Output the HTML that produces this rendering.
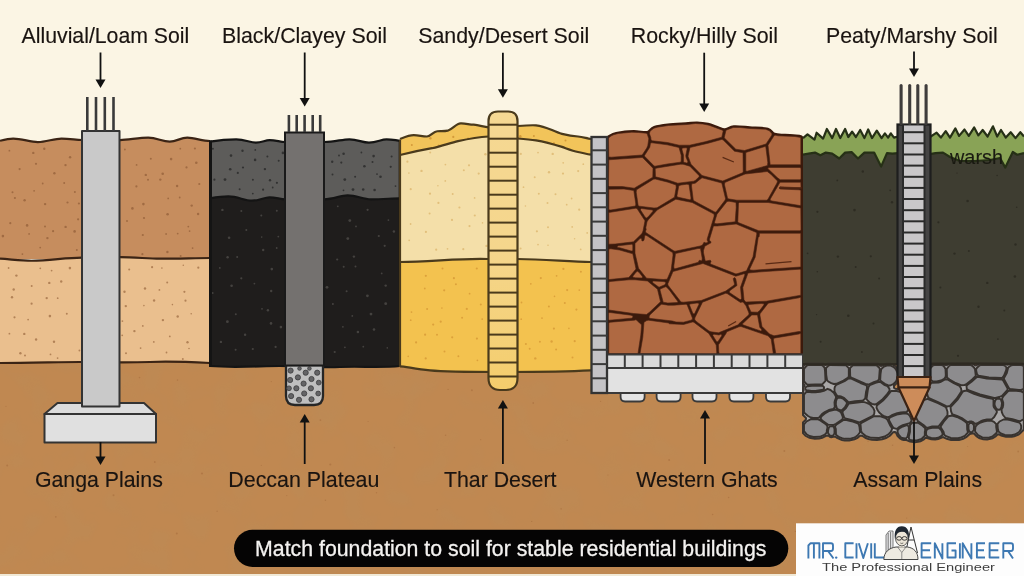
<!DOCTYPE html><html><head><meta charset="utf-8"><style>html,body{margin:0;padding:0;width:1024px;height:576px;overflow:hidden;background:#FBF5E4;}svg{display:block;filter:blur(0.4px);}text{font-family:"Liberation Sans",sans-serif;}</style></head><body>
<svg width="1024" height="576" viewBox="0 0 1024 576">
<defs><linearGradient id="pileg" x1="0" y1="0" x2="0" y2="1"><stop offset="0" stop-color="#F5D893"/><stop offset="0.5" stop-color="#F5D68C"/><stop offset="1" stop-color="#F4CD6C"/></linearGradient></defs>
<rect x="0" y="0" width="1024" height="576" fill="#FBF5E4"/>
<rect x="0" y="360" width="1024" height="216" fill="#C08851"/>
<filter id="mott" x="0" y="0" width="100%" height="100%"><feTurbulence type="fractalNoise" baseFrequency="0.035" numOctaves="2" seed="3"/><feColorMatrix type="matrix" values="0 0 0 0 0.45  0 0 0 0 0.28  0 0 0 0 0.12  0 0 0 -2.2 1.25"/></filter>
<rect x="0" y="360" width="1024" height="214" filter="url(#mott)" opacity="0.22"/>
<g fill="#a86f3f" opacity="0.6"><circle cx="6.0" cy="406.3" r="0.6"/><circle cx="82.5" cy="392.9" r="0.6"/><circle cx="139.5" cy="377.6" r="0.8"/><circle cx="177.5" cy="380.1" r="0.8"/><circle cx="271.3" cy="381.6" r="0.7"/><circle cx="320.4" cy="420.1" r="0.9"/><circle cx="368.1" cy="421.5" r="0.6"/><circle cx="448.1" cy="389.4" r="0.7"/><circle cx="471.9" cy="390.3" r="1.0"/><circle cx="533.2" cy="403.0" r="0.9"/><circle cx="600.6" cy="401.4" r="0.6"/><circle cx="644.4" cy="385.5" r="0.9"/><circle cx="720.1" cy="390.5" r="0.9"/><circle cx="779.7" cy="389.9" r="1.0"/><circle cx="849.6" cy="387.3" r="0.9"/><circle cx="899.9" cy="416.7" r="1.0"/><circle cx="947.2" cy="421.7" r="0.7"/><circle cx="1011.7" cy="411.2" r="0.7"/><circle cx="7.2" cy="465.5" r="1.0"/><circle cx="90.6" cy="475.2" r="0.8"/><circle cx="154.8" cy="462.0" r="0.9"/><circle cx="202.0" cy="473.5" r="1.1"/><circle cx="261.3" cy="465.3" r="0.6"/><circle cx="330.3" cy="464.5" r="1.1"/><circle cx="394.4" cy="447.6" r="0.8"/><circle cx="445.6" cy="435.3" r="0.8"/><circle cx="480.7" cy="439.7" r="0.6"/><circle cx="567.1" cy="440.3" r="0.7"/><circle cx="607.9" cy="475.0" r="0.6"/><circle cx="669.1" cy="459.9" r="1.0"/><circle cx="744.8" cy="474.6" r="0.7"/><circle cx="784.3" cy="451.0" r="1.0"/><circle cx="868.1" cy="441.3" r="0.7"/><circle cx="892.6" cy="445.2" r="0.8"/><circle cx="967.7" cy="446.5" r="0.6"/><circle cx="1018.2" cy="451.5" r="0.9"/><circle cx="55.8" cy="516.8" r="0.9"/><circle cx="113.5" cy="495.2" r="1.0"/><circle cx="176.8" cy="533.6" r="1.0"/><circle cx="217.1" cy="511.3" r="0.7"/><circle cx="286.8" cy="495.6" r="0.6"/><circle cx="325.4" cy="500.3" r="0.8"/><circle cx="376.5" cy="492.7" r="0.7"/><circle cx="437.2" cy="509.7" r="0.6"/><circle cx="531.7" cy="521.4" r="0.7"/><circle cx="561.1" cy="508.9" r="0.8"/><circle cx="712.6" cy="514.5" r="0.8"/><circle cx="728.6" cy="497.5" r="0.8"/><circle cx="795.4" cy="531.4" r="0.7"/><circle cx="842.5" cy="537.1" r="0.9"/><circle cx="906.7" cy="518.1" r="0.6"/><circle cx="983.0" cy="538.4" r="1.0"/></g>
<rect x="0" y="574" width="1024" height="2" fill="#F1E9D6"/>
<path d="M0,140.8 C5,139.5 9,138.6 13.2,138.6 C22,138.6 30,142.1 37.8,142.1 C46,142.1 54,138.6 61.5,138.6 C70,138.6 76,140 82,140 L120,140.1 C130,139.5 140,137.7 148.2,137.7 C157,137.7 162,141.6 169.7,141.6 C177,141.6 180,137.7 187.3,137.7 C195,137.7 202,141 210,141 L210,259 L0,259 Z" fill="#C68D5E"/>
<g fill="#94603a" opacity="0.75"><circle cx="9.4" cy="150.7" r="0.9"/><circle cx="33.3" cy="152.9" r="1.2"/><circle cx="44.3" cy="148.7" r="1.2"/><circle cx="70.1" cy="157.2" r="1.2"/><circle cx="124.9" cy="149.5" r="0.9"/><circle cx="150.8" cy="158.7" r="1.0"/><circle cx="171.1" cy="159.1" r="1.3"/><circle cx="180.3" cy="148.7" r="0.9"/><circle cx="194.9" cy="148.5" r="1.1"/><circle cx="19.6" cy="169.1" r="1.1"/><circle cx="36.0" cy="163.8" r="1.1"/><circle cx="54.4" cy="173.2" r="1.2"/><circle cx="65.5" cy="165.1" r="1.2"/><circle cx="136.6" cy="164.9" r="0.9"/><circle cx="145.8" cy="174.9" r="1.2"/><circle cx="162.7" cy="173.8" r="1.3"/><circle cx="186.5" cy="167.4" r="1.1"/><circle cx="196.3" cy="162.8" r="1.3"/><circle cx="12.5" cy="192.2" r="1.0"/><circle cx="34.1" cy="190.8" r="0.9"/><circle cx="42.7" cy="183.5" r="0.9"/><circle cx="64.2" cy="183.1" r="1.0"/><circle cx="74.9" cy="191.9" r="1.0"/><circle cx="136.4" cy="186.4" r="1.1"/><circle cx="148.0" cy="179.8" r="1.0"/><circle cx="160.3" cy="179.6" r="1.2"/><circle cx="177.1" cy="186.0" r="1.2"/><circle cx="199.3" cy="184.0" r="1.1"/><circle cx="14.9" cy="198.0" r="1.1"/><circle cx="24.6" cy="200.3" r="1.2"/><circle cx="45.1" cy="204.1" r="1.2"/><circle cx="67.5" cy="202.5" r="1.1"/><circle cx="78.9" cy="203.5" r="1.1"/><circle cx="132.4" cy="208.4" r="1.3"/><circle cx="143.4" cy="204.1" r="1.3"/><circle cx="168.2" cy="198.4" r="0.9"/><circle cx="179.7" cy="197.5" r="0.9"/><circle cx="191.7" cy="205.6" r="1.2"/><circle cx="10.3" cy="223.2" r="1.1"/><circle cx="27.1" cy="225.4" r="1.3"/><circle cx="45.0" cy="226.4" r="1.0"/><circle cx="65.6" cy="226.9" r="1.2"/><circle cx="78.1" cy="219.3" r="1.1"/><circle cx="127.0" cy="221.0" r="1.0"/><circle cx="144.0" cy="218.0" r="1.1"/><circle cx="167.6" cy="214.3" r="1.3"/><circle cx="188.3" cy="226.6" r="0.9"/><circle cx="198.1" cy="214.0" r="1.2"/><circle cx="2.9" cy="236.1" r="1.3"/><circle cx="29.1" cy="233.9" r="0.9"/><circle cx="47.4" cy="238.1" r="1.2"/><circle cx="53.1" cy="231.2" r="1.1"/><circle cx="74.6" cy="231.4" r="1.3"/><circle cx="142.8" cy="235.0" r="1.1"/><circle cx="166.1" cy="234.0" r="0.9"/><circle cx="177.7" cy="233.6" r="0.9"/><circle cx="189.6" cy="231.1" r="0.9"/><circle cx="22.4" cy="254.1" r="0.9"/><circle cx="40.2" cy="247.6" r="0.9"/><circle cx="76.8" cy="249.9" r="1.0"/><circle cx="142.4" cy="254.2" r="1.1"/><circle cx="167.4" cy="252.0" r="1.2"/><circle cx="180.6" cy="256.0" r="1.0"/><circle cx="192.6" cy="248.1" r="0.9"/></g>
<path d="M0,258.7 C12,259.5 22,260.75 31.5,260.75 C50,260.75 65,257.6 82,257.6 L120,257.2 C135,257.2 148,258.7 159.7,258.7 C180,258.7 195,258 210,258 L210,363 C190,362 170,361 150,362 C120,363 100,362 80,362 C60,362 30,363 0,363 Z" fill="#EABF8E"/>
<g fill="#a5744a" opacity="0.8"><circle cx="8.6" cy="268.0" r="0.9"/><circle cx="16.4" cy="275.6" r="1.2"/><circle cx="40.3" cy="268.3" r="0.9"/><circle cx="51.6" cy="270.6" r="0.9"/><circle cx="69.9" cy="268.1" r="1.3"/><circle cx="129.2" cy="269.6" r="1.0"/><circle cx="152.1" cy="267.2" r="1.1"/><circle cx="161.9" cy="268.1" r="0.8"/><circle cx="183.3" cy="265.2" r="0.8"/><circle cx="198.3" cy="267.7" r="1.1"/><circle cx="13.7" cy="289.5" r="1.2"/><circle cx="31.7" cy="286.0" r="1.0"/><circle cx="49.3" cy="282.9" r="1.2"/><circle cx="61.2" cy="281.5" r="1.2"/><circle cx="124.5" cy="291.8" r="1.2"/><circle cx="145.0" cy="288.5" r="1.2"/><circle cx="159.4" cy="289.9" r="0.9"/><circle cx="167.2" cy="282.6" r="1.0"/><circle cx="184.4" cy="291.8" r="1.1"/><circle cx="12.0" cy="297.2" r="1.2"/><circle cx="31.6" cy="303.7" r="1.1"/><circle cx="46.7" cy="298.1" r="1.2"/><circle cx="57.7" cy="298.2" r="0.9"/><circle cx="125.8" cy="306.1" r="1.2"/><circle cx="143.9" cy="305.6" r="0.8"/><circle cx="154.1" cy="300.5" r="1.2"/><circle cx="172.4" cy="304.6" r="0.8"/><circle cx="185.5" cy="300.7" r="1.1"/><circle cx="14.5" cy="317.3" r="1.1"/><circle cx="28.1" cy="319.6" r="0.9"/><circle cx="49.9" cy="316.1" r="1.3"/><circle cx="66.8" cy="313.7" r="1.0"/><circle cx="122.4" cy="321.1" r="0.9"/><circle cx="142.8" cy="325.9" r="0.9"/><circle cx="162.9" cy="320.1" r="1.2"/><circle cx="177.7" cy="316.5" r="1.2"/><circle cx="191.2" cy="313.8" r="0.8"/><circle cx="9.4" cy="333.7" r="0.9"/><circle cx="24.3" cy="333.9" r="1.2"/><circle cx="36.1" cy="339.5" r="1.2"/><circle cx="54.0" cy="341.8" r="1.2"/><circle cx="122.2" cy="335.3" r="0.9"/><circle cx="134.4" cy="331.1" r="1.2"/><circle cx="153.8" cy="341.9" r="0.9"/><circle cx="169.8" cy="336.4" r="0.9"/><circle cx="187.5" cy="342.2" r="1.2"/><circle cx="20.4" cy="353.2" r="1.2"/><circle cx="25.0" cy="355.6" r="1.0"/><circle cx="50.5" cy="354.4" r="0.9"/><circle cx="57.6" cy="358.1" r="0.9"/><circle cx="79.4" cy="350.5" r="0.9"/><circle cx="126.0" cy="353.3" r="1.0"/><circle cx="140.6" cy="348.1" r="0.9"/><circle cx="166.5" cy="352.5" r="0.9"/><circle cx="182.8" cy="359.0" r="1.0"/><circle cx="189.0" cy="348.5" r="0.8"/></g>
<g fill="none" stroke="#3b2415" stroke-width="2.2">
<path d="M0,140.8 C5,139.5 9,138.6 13.2,138.6 C22,138.6 30,142.1 37.8,142.1 C46,142.1 54,138.6 61.5,138.6 C70,138.6 76,140 82,140 L120,140.1 C130,139.5 140,137.7 148.2,137.7 C157,137.7 162,141.6 169.7,141.6 C177,141.6 180,137.7 187.3,137.7 C195,137.7 202,141 210,141"/>
<path d="M0,258.7 C12,259.5 22,260.75 31.5,260.75 C50,260.75 65,257.6 82,257.6 L120,257.2 C135,257.2 148,258.7 159.7,258.7 C180,258.7 195,258 210,258"/>
<path d="M0,363 C30,363 60,362 80,362 C100,362 120,363 150,362 C170,361 190,362 210,363"/>
</g>
<g stroke="#333" stroke-width="2" stroke-linejoin="round">
<path d="M57.5,403 L144,403 L156,414 L44.5,414 Z" fill="#DCDCDC"/>
<rect x="44.5" y="414" width="111.5" height="28.5" fill="#E0E0E0"/>
<rect x="82" y="131" width="37.5" height="275.5" fill="#C9C9C9"/>
</g>
<g stroke="#3a3a3a" stroke-width="2.6">
<line x1="87.3" y1="97" x2="87.3" y2="131"/>
<line x1="96" y1="97" x2="96" y2="131"/>
<line x1="104.8" y1="97" x2="104.8" y2="131"/>
<line x1="113.5" y1="97" x2="113.5" y2="131"/>
</g>
<path d="M210,141.7 C220,140 228,139.3 236.25,139.3 C245,139.3 250,142.6 255.8,142.6 C262,142.6 265,140.1 269.5,140.1 C276,140.1 280,142 285,142 L324,142 C335,142 342,139.3 349.5,139.3 C358,139.3 362,142.6 369,142.6 C377,142.6 381,139.3 386.6,139.3 C393,139.3 397,140.7 400.3,140.7 L400,202 L210,202 Z" fill="#5D5C5A"/>
<g fill="#2c2c2c" opacity="0.85"><circle cx="212.9" cy="148.8" r="1.0"/><circle cx="231.0" cy="155.6" r="1.3"/><circle cx="242.5" cy="150.7" r="1.2"/><circle cx="255.3" cy="149.9" r="0.9"/><circle cx="267.4" cy="156.5" r="1.0"/><circle cx="282.9" cy="152.9" r="1.3"/><circle cx="339.0" cy="155.5" r="0.9"/><circle cx="343.6" cy="153.8" r="1.3"/><circle cx="361.4" cy="152.5" r="0.9"/><circle cx="373.6" cy="156.1" r="1.3"/><circle cx="391.6" cy="156.5" r="1.0"/><circle cx="230.2" cy="169.3" r="1.3"/><circle cx="243.0" cy="167.5" r="1.1"/><circle cx="255.1" cy="159.9" r="1.3"/><circle cx="264.9" cy="169.1" r="1.2"/><circle cx="278.7" cy="160.8" r="1.0"/><circle cx="332.2" cy="161.8" r="1.2"/><circle cx="341.3" cy="162.6" r="1.1"/><circle cx="364.4" cy="166.2" r="1.3"/><circle cx="372.5" cy="161.9" r="1.0"/><circle cx="390.7" cy="166.8" r="1.1"/><circle cx="214.4" cy="179.7" r="1.1"/><circle cx="225.0" cy="179.6" r="1.4"/><circle cx="237.8" cy="172.9" r="1.1"/><circle cx="252.9" cy="179.8" r="1.0"/><circle cx="270.0" cy="180.3" r="1.2"/><circle cx="276.9" cy="182.8" r="1.1"/><circle cx="332.5" cy="174.5" r="1.0"/><circle cx="344.8" cy="179.6" r="1.4"/><circle cx="355.1" cy="176.7" r="1.0"/><circle cx="377.0" cy="174.1" r="0.9"/><circle cx="380.5" cy="176.7" r="1.3"/><circle cx="239.6" cy="189.2" r="1.0"/><circle cx="252.8" cy="193.6" r="0.9"/><circle cx="263.1" cy="189.7" r="1.1"/><circle cx="272.7" cy="187.5" r="0.9"/><circle cx="343.5" cy="190.3" r="0.9"/><circle cx="353.0" cy="189.6" r="1.4"/><circle cx="363.2" cy="189.5" r="1.3"/><circle cx="374.6" cy="190.0" r="1.3"/><circle cx="395.5" cy="186.1" r="0.9"/></g>
<path d="M210,198.3 C218,197 222,196.4 228.4,196.4 C238,196.4 244,200.7 251.9,200.7 C260,200.7 264,197.3 269.5,197.3 C276,197.3 280,199.3 285,199.3 L324,199.3 C334,199.3 340,195.4 347.6,195.4 C357,195.4 363,199.3 371,199.3 C383,199.3 392,198.3 400.3,198.3 L400,366 C380,368 360,366 340,367 C320,368 300,366 280,366 C260,366 235,368 210,366 Z" fill="#1F1D1C"/>
<g fill="#55524f" opacity="0.7"><circle cx="222.4" cy="209.9" r="1.2"/><circle cx="241.3" cy="211.1" r="1.0"/><circle cx="261.3" cy="215.4" r="1.0"/><circle cx="276.8" cy="210.8" r="1.0"/><circle cx="337.8" cy="206.3" r="0.9"/><circle cx="349.8" cy="220.6" r="1.4"/><circle cx="367.6" cy="209.8" r="1.1"/><circle cx="388.4" cy="220.1" r="0.9"/><circle cx="229.1" cy="237.7" r="1.3"/><circle cx="246.3" cy="230.1" r="1.0"/><circle cx="261.7" cy="237.1" r="0.8"/><circle cx="278.3" cy="236.6" r="0.9"/><circle cx="347.8" cy="238.6" r="1.4"/><circle cx="356.0" cy="226.4" r="0.9"/><circle cx="378.8" cy="236.0" r="1.1"/><circle cx="393.9" cy="231.5" r="1.2"/><circle cx="227.6" cy="257.2" r="1.2"/><circle cx="237.2" cy="257.1" r="1.0"/><circle cx="263.2" cy="250.0" r="1.2"/><circle cx="276.7" cy="248.0" r="0.9"/><circle cx="337.2" cy="259.5" r="1.1"/><circle cx="353.9" cy="256.6" r="1.2"/><circle cx="384.7" cy="245.8" r="1.1"/><circle cx="219.8" cy="267.9" r="0.9"/><circle cx="241.3" cy="278.3" r="1.1"/><circle cx="271.8" cy="269.1" r="1.3"/><circle cx="343.7" cy="266.8" r="1.0"/><circle cx="355.5" cy="266.5" r="1.0"/><circle cx="381.7" cy="273.4" r="0.9"/><circle cx="212.7" cy="293.0" r="0.9"/><circle cx="231.6" cy="285.7" r="1.3"/><circle cx="254.4" cy="283.6" r="0.9"/><circle cx="271.2" cy="291.0" r="1.2"/><circle cx="327.0" cy="287.3" r="1.4"/><circle cx="346.6" cy="291.3" r="1.0"/><circle cx="367.4" cy="295.8" r="1.4"/><circle cx="385.7" cy="285.6" r="1.2"/><circle cx="235.8" cy="314.3" r="1.0"/><circle cx="262.0" cy="308.8" r="0.9"/><circle cx="267.9" cy="310.2" r="1.2"/><circle cx="332.9" cy="304.0" r="1.0"/><circle cx="352.3" cy="315.9" r="0.9"/><circle cx="371.0" cy="314.1" r="1.4"/><circle cx="385.7" cy="303.7" r="1.4"/><circle cx="227.4" cy="321.7" r="1.4"/><circle cx="245.1" cy="334.8" r="1.2"/><circle cx="271.0" cy="323.4" r="1.3"/><circle cx="280.9" cy="327.1" r="1.3"/><circle cx="342.9" cy="326.8" r="0.9"/><circle cx="357.9" cy="332.0" r="1.3"/><circle cx="374.0" cy="329.5" r="1.3"/><circle cx="220.9" cy="341.9" r="1.2"/><circle cx="235.6" cy="349.7" r="1.0"/><circle cx="252.8" cy="349.0" r="1.1"/><circle cx="275.6" cy="346.9" r="1.1"/><circle cx="334.7" cy="352.0" r="1.1"/><circle cx="344.9" cy="347.3" r="0.9"/><circle cx="363.3" cy="346.7" r="0.9"/><circle cx="387.3" cy="347.9" r="0.8"/></g>
<g fill="none" stroke="#141414" stroke-width="2.2">
<path d="M210,141.7 C220,140 228,139.3 236.25,139.3 C245,139.3 250,142.6 255.8,142.6 C262,142.6 265,140.1 269.5,140.1 C276,140.1 280,142 285,142 L324,142 C335,142 342,139.3 349.5,139.3 C358,139.3 362,142.6 369,142.6 C377,142.6 381,139.3 386.6,139.3 C393,139.3 397,140.7 400.3,140.7"/>
<path d="M210,198.3 C218,197 222,196.4 228.4,196.4 C238,196.4 244,200.7 251.9,200.7 C260,200.7 264,197.3 269.5,197.3 C276,197.3 280,199.3 285,199.3 L324,199.3 C334,199.3 340,195.4 347.6,195.4 C357,195.4 363,199.3 371,199.3 C383,199.3 392,198.3 400.3,198.3"/>
<path d="M210,366 C235,368 260,366 280,366 C300,366 320,368 340,367 C360,366 380,368 400,366"/>
<line x1="210.5" y1="140.5" x2="210.5" y2="367" stroke-width="3"/><line x1="400" y1="140" x2="400" y2="367" stroke-width="2.6"/>
</g>
<path d="M286,365 L323,365 L323,396 Q323,405 314,405 L295,405 Q286,405 286,396 Z" fill="#BFBFBF" stroke="#262626" stroke-width="2.3"/>
<g fill="#646466" stroke="#3c3c3e" stroke-width="0.8"><circle cx="290.6" cy="370.6" r="2.6"/><circle cx="299.5" cy="368.5" r="1.8"/><circle cx="309.4" cy="368.5" r="1.8"/><circle cx="305.7" cy="372.7" r="2.6"/><circle cx="317.2" cy="372.7" r="2.6"/><circle cx="297.9" cy="377.4" r="2.6"/><circle cx="290.1" cy="380" r="2.6"/><circle cx="311.5" cy="379" r="2.6"/><circle cx="303.6" cy="383.6" r="2.6"/><circle cx="318.75" cy="382.6" r="2.4"/><circle cx="289" cy="388.3" r="2.4"/><circle cx="296.35" cy="388.3" r="2.6"/><circle cx="310.9" cy="388.3" r="2.6"/><circle cx="304.2" cy="393.5" r="2.6"/><circle cx="318.2" cy="393.5" r="2.4"/><circle cx="291.1" cy="396.1" r="2.6"/><circle cx="299" cy="399.8" r="2.6"/><circle cx="311.5" cy="399.3" r="2.6"/></g>
<rect x="285" y="132.5" width="39" height="233" fill="#74716F" stroke="#1a1a1a" stroke-width="2"/>
<g stroke="#3a3a3a" stroke-width="2.6">
<line x1="288.9" y1="115" x2="288.9" y2="132"/>
<line x1="296.7" y1="115" x2="296.7" y2="132"/>
<line x1="304.6" y1="115" x2="304.6" y2="132"/>
<line x1="312.7" y1="115" x2="312.7" y2="132"/>
<line x1="320.2" y1="115" x2="320.2" y2="132"/>
</g>
<path d="M400,155 C412,152 422,150 432,148.2 C442,146 450,143 458,141.1 C470,138.5 480,137 488.6,136.5 L517.8,138.5 C524,139 530,139.5 536,140.4 C545,142 554,144.5 562,146.9 C568,149 573,151 578,152 C583,153 587,154 591,154.7 L591,263 L400,263 Z" fill="#F4DFA9"/>
<g fill="#dfba74" opacity="0.85"><circle cx="407.4" cy="161.7" r="1.1"/><circle cx="430.2" cy="152.4" r="1.0"/><circle cx="445.4" cy="164.6" r="0.9"/><circle cx="469.0" cy="165.3" r="1.1"/><circle cx="485.4" cy="154.3" r="1.2"/><circle cx="520.8" cy="153.9" r="1.1"/><circle cx="538.0" cy="152.6" r="0.9"/><circle cx="552.7" cy="153.9" r="1.2"/><circle cx="563.2" cy="162.8" r="0.9"/><circle cx="583.3" cy="164.2" r="0.9"/><circle cx="408.9" cy="173.1" r="0.8"/><circle cx="421.5" cy="170.9" r="1.2"/><circle cx="445.3" cy="180.9" r="0.9"/><circle cx="463.8" cy="170.3" r="1.0"/><circle cx="478.7" cy="173.6" r="1.1"/><circle cx="534.7" cy="177.3" r="1.0"/><circle cx="549.0" cy="172.3" r="1.2"/><circle cx="563.0" cy="173.6" r="1.1"/><circle cx="578.2" cy="171.1" r="1.1"/><circle cx="410.7" cy="189.2" r="1.1"/><circle cx="430.0" cy="193.7" r="1.1"/><circle cx="437.9" cy="185.8" r="0.8"/><circle cx="452.7" cy="194.1" r="1.0"/><circle cx="474.6" cy="197.9" r="0.9"/><circle cx="523.5" cy="187.2" r="0.9"/><circle cx="538.8" cy="193.7" r="1.0"/><circle cx="555.5" cy="194.2" r="1.0"/><circle cx="571.6" cy="198.5" r="0.9"/><circle cx="429.6" cy="213.4" r="1.0"/><circle cx="438.4" cy="202.9" r="1.1"/><circle cx="459.4" cy="207.5" r="1.1"/><circle cx="474.8" cy="215.5" r="1.1"/><circle cx="525.4" cy="206.0" r="0.8"/><circle cx="547.5" cy="202.9" r="1.0"/><circle cx="566.7" cy="204.7" r="0.9"/><circle cx="579.2" cy="209.7" r="1.1"/><circle cx="410.6" cy="224.0" r="0.9"/><circle cx="425.9" cy="231.9" r="1.1"/><circle cx="452.0" cy="219.9" r="1.1"/><circle cx="469.5" cy="226.1" r="1.1"/><circle cx="482.5" cy="222.9" r="0.8"/><circle cx="536.9" cy="231.3" r="1.1"/><circle cx="548.0" cy="227.3" r="1.0"/><circle cx="572.2" cy="226.9" r="0.9"/><circle cx="587.2" cy="232.9" r="0.9"/><circle cx="409.2" cy="240.3" r="0.9"/><circle cx="436.2" cy="249.7" r="1.1"/><circle cx="447.5" cy="248.8" r="0.9"/><circle cx="463.3" cy="249.2" r="1.1"/><circle cx="486.5" cy="245.9" r="1.2"/><circle cx="520.6" cy="248.5" r="1.0"/><circle cx="538.0" cy="244.6" r="0.9"/><circle cx="548.0" cy="245.3" r="0.8"/><circle cx="574.6" cy="238.8" r="0.8"/><circle cx="580.7" cy="249.4" r="0.9"/></g>
<path d="M400,262 C430,262 460,258 488,259 L517,259 C545,259 570,262 591,262 L591,370.4 C560,372 520,372 500,372 C470,372 440,371.4 430,370.4 C415,369 405,366.3 400,366.3 Z" fill="#F3C24F"/>
<g fill="#d99c38" opacity="0.85"><circle cx="425.8" cy="275.8" r="1.1"/><circle cx="442.5" cy="268.5" r="1.0"/><circle cx="453.9" cy="278.2" r="1.1"/><circle cx="476.8" cy="268.5" r="1.1"/><circle cx="540.8" cy="278.1" r="1.1"/><circle cx="556.6" cy="275.8" r="0.9"/><circle cx="563.4" cy="268.9" r="1.1"/><circle cx="580.9" cy="271.7" r="1.0"/><circle cx="424.8" cy="288.5" r="0.9"/><circle cx="444.2" cy="290.3" r="1.1"/><circle cx="455.9" cy="284.2" r="1.0"/><circle cx="469.6" cy="293.7" r="0.9"/><circle cx="530.8" cy="283.8" r="0.9"/><circle cx="554.5" cy="296.4" r="0.8"/><circle cx="567.2" cy="290.1" r="1.1"/><circle cx="579.3" cy="290.1" r="0.9"/><circle cx="411.5" cy="312.1" r="0.9"/><circle cx="427.1" cy="308.9" r="1.0"/><circle cx="441.9" cy="308.1" r="0.8"/><circle cx="466.8" cy="308.9" r="1.1"/><circle cx="480.8" cy="304.5" r="1.0"/><circle cx="521.5" cy="302.5" r="0.9"/><circle cx="548.9" cy="306.4" r="1.0"/><circle cx="564.8" cy="302.9" r="1.0"/><circle cx="576.4" cy="309.6" r="1.1"/><circle cx="410.7" cy="320.2" r="0.9"/><circle cx="433.2" cy="324.6" r="1.1"/><circle cx="440.7" cy="321.7" r="1.1"/><circle cx="462.1" cy="317.7" r="1.0"/><circle cx="482.2" cy="319.1" r="0.9"/><circle cx="521.2" cy="319.2" r="0.9"/><circle cx="542.0" cy="318.1" r="0.9"/><circle cx="553.9" cy="328.6" r="1.1"/><circle cx="568.9" cy="328.4" r="0.8"/><circle cx="416.1" cy="342.4" r="1.1"/><circle cx="425.1" cy="334.7" r="1.1"/><circle cx="437.0" cy="334.8" r="1.0"/><circle cx="452.2" cy="337.3" r="1.1"/><circle cx="476.9" cy="338.6" r="1.1"/><circle cx="525.9" cy="343.9" r="1.0"/><circle cx="539.9" cy="341.8" r="1.0"/><circle cx="551.6" cy="341.5" r="1.2"/><circle cx="574.7" cy="341.2" r="1.1"/><circle cx="408.2" cy="356.4" r="0.8"/><circle cx="425.7" cy="358.4" r="1.1"/><circle cx="444.5" cy="351.5" r="1.0"/><circle cx="458.4" cy="356.3" r="1.0"/><circle cx="477.4" cy="360.3" r="0.9"/><circle cx="529.7" cy="348.8" r="1.0"/><circle cx="535.3" cy="358.4" r="1.2"/><circle cx="556.1" cy="349.6" r="1.0"/><circle cx="572.5" cy="357.6" r="1.0"/></g>
<path d="M400,139 C405,137 409,135.2 413.8,135.2 C419,135.2 422,136.5 426.9,136.5 C431,136.5 433,131.5 437.3,131.25 C441,131 444,131.5 447.7,130.7 C453,129 456,123.6 460.7,123.4 C466,123.2 469,124.7 473.75,124.7 C479,125 484,127 488.6,127.3 L518,126 C524,125.5 530,125 536,125.3 C546,126 553,131.5 562,133.9 C568,135.5 573,136.3 578,136.5 C583,137 587,138.5 591,139 L591,154.7 C587,154 583,153 578,152 C573,151 568,149 562,146.9 C554,144.5 545,142 536,140.4 C530,139.5 524,139 517.8,138.5 L488.6,136.5 C480,137 470,138.5 458,141.1 C450,143 442,146 432,148.2 C422,150 412,152 400,155 Z" fill="#F2C45A"/>
<g fill="#d49a3a" opacity="1"><circle cx="411.8" cy="145.1" r="1.0"/><circle cx="430.4" cy="138.3" r="1.2"/><circle cx="438.8" cy="145.6" r="1.0"/><circle cx="453.3" cy="136.9" r="1.1"/><circle cx="468.1" cy="138.7" r="1.1"/><circle cx="491.8" cy="137.8" r="1.0"/><circle cx="501.3" cy="142.6" r="1.3"/><circle cx="520.3" cy="136.2" r="1.2"/><circle cx="533.9" cy="136.1" r="1.0"/><circle cx="553.9" cy="143.4" r="1.2"/><circle cx="565.5" cy="140.4" r="1.0"/><circle cx="586.8" cy="137.9" r="1.2"/></g>
<g fill="none" stroke="#4a3a1c" stroke-width="2.2">
<path d="M400,139 C405,137 409,135.2 413.8,135.2 C419,135.2 422,136.5 426.9,136.5 C431,136.5 433,131.5 437.3,131.25 C441,131 444,131.5 447.7,130.7 C453,129 456,123.6 460.7,123.4 C466,123.2 469,124.7 473.75,124.7 C479,125 484,127 488.6,127.3 L518,126 C524,125.5 530,125 536,125.3 C546,126 553,131.5 562,133.9 C568,135.5 573,136.3 578,136.5 C583,137 587,138.5 591,139"/>
<path d="M400,155 C412,152 422,150 432,148.2 C442,146 450,143 458,141.1 C470,138.5 480,137 488.6,136.5 M517.8,138.5 C524,139 530,139.5 536,140.4 C545,142 554,144.5 562,146.9 C568,149 573,151 578,152 C583,153 587,154 591,154.7"/>
<path d="M400,262 C430,262 460,258 488,259 M517,259 C545,259 570,262 591,262"/>
<path d="M400,366.3 C405,366.3 415,369 430,370.4 C440,371.4 470,372 500,372 C520,372 560,372 591,370.4"/>
<line x1="400" y1="140" x2="400" y2="367"/>
</g>
<path d="M488.5,121 C488.5,114 492,111.5 498,111.5 L508,111.5 C514,111.5 517.5,114 517.5,121 L517.5,378 C517.5,386 513,390 506,390 L500,390 C493,390 488.5,386 488.5,378 Z" fill="url(#pileg)" stroke="#4a3a1c" stroke-width="2.2"/>
<g stroke="#4a3a1c" stroke-width="2"><line x1="489" y1="124.7" x2="517" y2="124.7"/><line x1="489" y1="138.7" x2="517" y2="138.7"/><line x1="489" y1="152.7" x2="517" y2="152.7"/><line x1="489" y1="166.7" x2="517" y2="166.7"/><line x1="489" y1="180.7" x2="517" y2="180.7"/><line x1="489" y1="194.7" x2="517" y2="194.7"/><line x1="489" y1="208.6" x2="517" y2="208.6"/><line x1="489" y1="222.6" x2="517" y2="222.6"/><line x1="489" y1="236.6" x2="517" y2="236.6"/><line x1="489" y1="250.6" x2="517" y2="250.6"/><line x1="489" y1="264.6" x2="517" y2="264.6"/><line x1="489" y1="278.6" x2="517" y2="278.6"/><line x1="489" y1="292.6" x2="517" y2="292.6"/><line x1="489" y1="306.6" x2="517" y2="306.6"/><line x1="489" y1="320.6" x2="517" y2="320.6"/><line x1="489" y1="334.6" x2="517" y2="334.6"/><line x1="489" y1="348.5" x2="517" y2="348.5"/><line x1="489" y1="362.5" x2="517" y2="362.5"/><line x1="489" y1="376.5" x2="517" y2="376.5"/></g>
<path d="M607.9,137.0 C608.8,136.5 610.9,134.8 613.0,134.0 C615.1,133.2 616.8,132.8 620.3,132.4 C623.8,132.0 629.8,131.3 633.9,131.3 C638.0,131.3 642.8,132.2 645.2,132.2 C647.7,132.2 647.1,132.3 648.6,131.5 C650.1,130.7 651.0,128.3 654.2,127.2 C657.4,126.1 662.5,125.3 667.8,124.7 C673.1,124.1 680.9,123.8 685.8,123.5 C690.7,123.2 693.4,122.5 697.1,122.6 C700.8,122.7 704.5,123.2 708.0,124.0 C711.5,124.8 715.2,126.6 718.0,127.5 C720.8,128.4 722.1,129.7 724.8,129.5 C727.4,129.3 729.8,126.8 733.9,126.5 C738.0,126.2 744.1,127.0 749.7,127.4 C755.4,127.8 763.7,127.7 767.8,128.8 C771.9,129.9 771.6,133.0 774.5,134.0 C777.4,135.0 780.9,134.7 785.0,135.0 C789.1,135.3 796.4,135.5 799.4,136.0 C802.4,136.5 802.2,137.8 802.8,138.2 L802.8,356 L607,356 Z" fill="#3B1A0C" stroke="#3B1A0C" stroke-width="2.4" stroke-linejoin="round"/>
<path d="M713.0,334.5 L712.8,335.5 L716.5,341.5 L717.2,341.8 L718.0,341.5 L721.8,335.8 L721.5,334.5 L720.8,334.2 L719.0,335.0 L714.0,334.2Z M800.8,333.8 L800.0,333.5 L799.0,334.0 L773.8,338.2 L773.5,340.2 L775.8,353.5 L800.8,353.5Z M718.5,344.8 L718.8,352.0 L719.2,353.5 L720.0,353.8 L772.2,353.8 L773.2,353.0 L771.2,339.2 L768.0,335.8 L741.0,326.5 L739.0,326.8 L726.8,331.8 L726.0,333.5Z M644.0,322.2 L642.8,337.2 L640.2,352.5 L640.5,353.5 L715.8,353.8 L716.8,353.0 L716.2,345.0 L708.8,333.5 L693.8,322.2 L692.5,322.0 L683.5,324.5 L669.2,323.8 L668.8,323.0 L648.5,320.2 L646.8,320.5Z M641.2,324.0 L640.0,323.5 L636.5,320.0 L635.8,319.8 L634.2,320.2 L610.5,322.2 L608.8,322.8 L608.8,353.5 L638.0,353.5 L640.8,335.0 L641.5,325.8Z M742.5,323.8 L742.8,324.8 L755.5,329.2 L760.8,331.0 L761.8,330.2 L761.5,329.2 L759.8,327.5 L757.5,315.0 L751.8,315.0Z M608.5,313.2 L608.5,319.5 L609.5,320.2 L631.5,318.2 L633.0,317.2 L632.8,316.0 L631.0,315.2 L610.0,312.5 L608.8,312.8Z M649.0,317.0 L649.2,318.0 L651.0,318.5 L672.5,321.0 L676.0,322.0 L683.5,322.2 L691.0,320.2 L692.5,319.2 L692.2,317.5 L687.2,305.0 L686.2,304.2 L673.8,305.2 L668.0,305.2 L661.8,304.2 L661.0,304.5 L649.8,315.0Z M763.8,303.8 L761.2,303.5 L748.5,304.5 L748.2,305.8 L751.0,312.0 L757.5,312.2 L759.5,310.8 L764.0,304.8Z M698.8,303.2 L697.0,303.0 L689.8,304.0 L689.5,305.0 L693.0,313.8 L694.5,313.8 L699.0,304.2Z M800.8,297.5 L800.0,297.2 L799.0,297.8 L768.2,303.2 L760.0,313.8 L760.0,315.8 L762.0,326.5 L769.5,334.0 L774.0,335.8 L798.8,331.5 L800.8,331.5Z M746.0,305.8 L743.2,302.2 L742.2,302.0 L740.5,302.5 L727.5,293.8 L725.8,293.2 L702.5,302.2 L694.8,318.0 L694.8,319.8 L696.0,321.2 L709.0,331.0 L711.0,331.8 L718.5,332.8 L738.2,324.8 L738.8,323.8 L748.8,314.8 L749.0,313.2Z M660.2,289.0 L660.0,290.0 L663.2,302.2 L667.8,303.0 L677.5,302.5 L677.8,301.5 L669.5,290.2 L666.5,287.0 L665.5,286.8Z M652.5,281.8 L652.8,282.8 L659.0,287.2 L664.8,284.8 L665.8,283.0 L665.5,282.0 L663.0,281.5 L653.5,281.0Z M608.8,282.0 L608.8,310.0 L633.5,313.5 L646.5,314.5 L649.5,312.2 L660.5,301.8 L657.5,289.2 L647.5,281.0 L635.0,279.8 L629.0,279.8 L610.0,281.5Z M632.8,276.2 L633.0,277.2 L635.2,277.8 L641.5,278.0 L642.5,277.2 L642.2,276.2 L639.2,272.5 L637.5,271.2 L636.2,272.0Z M800.8,269.5 L799.5,269.2 L761.5,271.8 L748.0,273.0 L742.8,287.5 L744.0,299.8 L745.5,301.8 L746.2,302.0 L766.2,301.2 L800.8,295.2Z M667.8,283.8 L668.0,285.2 L681.0,302.0 L683.5,302.2 L701.2,300.5 L725.8,291.0 L734.2,285.0 L734.5,284.0 L733.2,278.8 L734.0,277.8 L735.0,277.8 L735.8,279.0 L737.0,285.5 L730.0,290.5 L729.2,292.0 L729.8,292.8 L739.5,299.2 L740.5,299.5 L741.5,298.8 L740.5,287.2 L745.0,274.5 L744.0,273.8 L735.8,276.2 L703.0,263.5 L673.0,271.5Z M608.8,249.0 L608.8,279.2 L609.5,279.5 L628.8,277.5 L636.0,269.0 L632.8,253.8 L619.5,250.0 L610.8,248.8Z M700.5,248.5 L698.0,248.5 L675.5,253.5 L673.8,266.0 L674.0,268.5 L675.0,268.8 L698.5,262.2 L698.8,261.0 L699.5,260.2 L701.2,260.8 L702.0,260.5 L702.2,258.2Z M632.8,250.2 L632.8,245.0 L631.8,244.2 L618.2,245.8 L617.2,246.5 L617.5,247.5 L619.8,247.8 L631.2,251.0 L632.5,250.8Z M644.8,235.5 L644.0,240.0 L643.2,241.0 L642.2,241.0 L641.8,240.5 L641.8,239.0 L640.8,238.2 L640.0,238.5 L635.0,243.5 L635.0,253.2 L638.5,268.2 L646.5,278.2 L663.2,279.5 L667.2,279.2 L671.2,269.8 L673.0,255.2 L672.8,252.8 L647.0,235.8 L645.8,235.2Z M759.5,233.2 L759.2,236.5 L758.2,237.5 L755.2,257.2 L749.8,268.8 L750.0,270.0 L753.8,270.2 L800.8,267.0 L800.8,233.2Z M713.5,226.0 L709.5,239.2 L709.5,240.5 L710.8,241.5 L711.0,242.8 L704.8,246.2 L703.5,250.5 L703.5,252.8 L705.2,260.8 L706.0,261.0 L710.2,260.2 L711.0,261.0 L711.0,262.0 L710.2,263.0 L710.5,264.0 L735.5,273.8 L736.8,273.8 L746.5,270.8 L753.0,256.8 L756.8,234.0 L756.5,232.5 L736.2,224.0 L717.2,226.0Z M640.5,209.2 L640.8,210.5 L645.2,217.2 L646.5,218.0 L648.2,216.8 L653.0,211.2 L652.8,210.0 L641.5,208.5Z M637.0,208.5 L635.8,208.2 L608.8,212.5 L608.8,244.2 L615.2,244.0 L633.5,241.8 L642.0,233.5 L643.0,231.0 L645.0,220.8Z M738.5,203.2 L737.8,221.8 L738.2,222.5 L758.8,230.8 L800.0,230.8 L801.0,230.0 L800.8,208.0 L768.2,202.5 L739.5,202.5Z M736.0,202.5 L729.0,201.2 L727.0,201.5 L717.0,214.2 L714.5,222.2 L714.8,223.5 L717.0,223.8 L735.2,221.8 L736.2,207.5Z M647.0,221.8 L645.8,227.8 L646.2,229.5 L645.5,231.2 L645.8,232.5 L674.0,251.0 L675.2,251.2 L700.2,246.0 L702.5,245.0 L704.0,242.2 L706.0,243.0 L707.8,242.2 L708.0,241.2 L707.2,240.5 L707.2,239.0 L714.0,216.8 L714.2,214.8 L713.5,213.8 L692.2,202.5 L675.8,199.2 L657.2,210.0 L648.5,219.5Z M608.8,189.2 L608.8,209.8 L610.8,210.0 L635.5,206.0 L635.8,204.0 L633.8,190.5 L624.0,189.0Z M689.0,184.5 L686.8,184.2 L681.0,185.0 L678.8,185.8 L677.0,195.5 L677.2,197.0 L689.8,199.8 L690.8,199.5 L691.0,198.0Z M770.2,199.2 L770.5,200.5 L772.0,201.0 L799.8,205.5 L800.8,205.2 L800.8,190.2 L799.0,189.8 L780.0,189.0 L779.2,188.0 L780.0,186.8 L800.0,187.8 L801.0,187.0 L800.8,182.2 L780.0,182.2Z M676.0,185.0 L668.0,182.2 L655.2,179.0 L653.5,179.2 L636.5,189.8 L636.2,192.2 L638.2,205.8 L639.5,206.2 L654.0,208.0 L657.0,207.8 L674.5,197.2 L676.2,187.5Z M691.8,183.8 L691.5,186.0 L693.2,199.5 L693.8,200.8 L715.2,212.2 L716.2,211.8 L725.2,200.0 L725.5,198.5 L721.8,183.0 L702.0,177.8 L695.2,183.2Z M777.5,181.0 L770.8,174.2 L767.2,171.5 L745.2,174.0 L724.8,182.5 L724.5,184.8 L727.5,198.0 L728.0,198.8 L737.0,200.2 L766.5,200.2 L767.8,199.5 L777.0,183.0Z M767.8,168.2 L768.0,169.2 L768.5,169.2 L777.2,177.5 L780.2,179.8 L800.0,179.8 L801.0,179.0 L801.0,168.2 L800.0,167.5 L768.8,167.5Z M699.2,176.8 L699.0,175.5 L689.8,166.2 L683.0,164.2 L680.5,164.2 L657.0,168.0 L655.5,168.5 L655.2,169.0 L655.5,176.8 L668.2,180.0 L677.8,183.2 L693.8,181.2 L695.5,180.2Z M653.0,168.2 L642.8,157.8 L642.0,157.5 L608.8,159.8 L608.5,185.8 L609.5,186.5 L622.2,186.5 L634.2,188.2 L652.8,177.2Z M682.2,148.0 L682.0,149.8 L683.5,155.0 L683.5,161.8 L683.8,162.2 L686.8,163.0 L687.5,162.8 L687.8,161.5 L686.0,157.2 L685.8,155.5 L687.2,148.5 L686.2,147.8Z M765.8,146.8 L765.0,146.5 L745.8,152.5 L745.8,171.0 L747.2,171.2 L767.5,165.5 L767.8,162.5Z M644.5,155.5 L644.8,156.5 L654.2,166.0 L655.0,166.2 L667.2,164.0 L680.2,162.2 L681.2,161.5 L681.2,155.2 L679.0,147.5 L667.2,144.8 L652.0,142.8 L650.5,143.0 L649.8,147.2Z M690.0,147.5 L688.0,156.2 L691.0,164.2 L702.0,175.5 L722.8,181.0 L742.5,172.8 L743.2,172.0 L743.0,152.8 L734.5,151.2 L723.0,139.8 L721.5,139.5 L708.2,143.2Z M774.2,135.5 L768.0,145.2 L770.2,164.8 L800.8,164.8 L800.8,137.5 L795.0,136.5 L778.0,135.8 L775.8,135.2Z M647.2,133.8 L646.2,133.2 L638.8,132.5 L631.8,132.2 L618.2,133.5 L613.5,134.8 L611.0,136.0 L608.5,138.0 L608.8,157.0 L611.5,157.2 L642.2,155.0 L646.8,148.0 L647.8,145.5 L648.8,138.8Z M724.2,137.8 L735.8,149.2 L744.5,150.5 L766.0,144.0 L771.8,135.2 L772.0,133.8 L769.5,130.8 L765.5,129.2 L749.8,128.5 L740.0,127.5 L733.2,127.5 L726.0,130.2Z M723.2,131.0 L722.5,130.2 L709.0,125.2 L702.8,124.0 L695.5,123.5 L687.2,124.5 L668.5,125.5 L657.2,127.2 L654.0,128.2 L652.0,129.5 L649.8,131.8 L649.5,133.8 L650.8,137.5 L651.0,139.8 L652.2,140.8 L667.5,142.5 L679.2,145.2 L689.5,145.2 L705.0,141.8 L721.8,137.2Z" fill="#AF6942" stroke="#4a2212" stroke-width="0.6"/>
<path d="M722.6,157.4 L733.9,162.0 M779.1,187.9 L801.6,187.9 M765.5,263.9 L791.5,261.6 M728.2,326.0 L736.1,321.5" stroke="#5a2a14" stroke-width="1.3" fill="none"/>
<rect x="607" y="354.5" width="196" height="13.5" fill="#DADADA" stroke="#3a3a3a" stroke-width="2"/>
<g stroke="#3a3a3a" stroke-width="2"><line x1="624.8" y1="355" x2="624.8" y2="368"/><line x1="642.6" y1="355" x2="642.6" y2="368"/><line x1="660.5" y1="355" x2="660.5" y2="368"/><line x1="678.3" y1="355" x2="678.3" y2="368"/><line x1="696.1" y1="355" x2="696.1" y2="368"/><line x1="713.9" y1="355" x2="713.9" y2="368"/><line x1="731.7" y1="355" x2="731.7" y2="368"/><line x1="749.5" y1="355" x2="749.5" y2="368"/><line x1="767.4" y1="355" x2="767.4" y2="368"/><line x1="785.2" y1="355" x2="785.2" y2="368"/></g>
<rect x="607" y="368" width="196" height="25" fill="#E2E2E2" stroke="#3a3a3a" stroke-width="2"/>
<path d="M620.6,393 L644.6,393 L644.6,397 Q644.6,401.5 640.1,401.5 L625.1,401.5 Q620.6,401.5 620.6,397 Z" fill="#E4E4E4" stroke="#3a3a3a" stroke-width="1.8"/>
<path d="M656.6,393 L680.6,393 L680.6,397 Q680.6,401.5 676.1,401.5 L661.1,401.5 Q656.6,401.5 656.6,397 Z" fill="#E4E4E4" stroke="#3a3a3a" stroke-width="1.8"/>
<path d="M692.5,393 L716.5,393 L716.5,397 Q716.5,401.5 712.0,401.5 L697.0,401.5 Q692.5,401.5 692.5,397 Z" fill="#E4E4E4" stroke="#3a3a3a" stroke-width="1.8"/>
<path d="M729.4,393 L753.4,393 L753.4,397 Q753.4,401.5 748.9,401.5 L733.9,401.5 Q729.4,401.5 729.4,397 Z" fill="#E4E4E4" stroke="#3a3a3a" stroke-width="1.8"/>
<path d="M766,393 L790,393 L790,397 Q790,401.5 785.5,401.5 L770.5,401.5 Q766,401.5 766,397 Z" fill="#E4E4E4" stroke="#3a3a3a" stroke-width="1.8"/>
<rect x="591.5" y="137" width="15.5" height="256" fill="#C4C3C6" stroke="#333" stroke-width="2.3"/>
<g stroke="#3a3a3a" stroke-width="2"><line x1="592" y1="150.3" x2="607" y2="150.3"/><line x1="592" y1="164.6" x2="607" y2="164.6"/><line x1="592" y1="178.8" x2="607" y2="178.8"/><line x1="592" y1="193.1" x2="607" y2="193.1"/><line x1="592" y1="207.3" x2="607" y2="207.3"/><line x1="592" y1="221.6" x2="607" y2="221.6"/><line x1="592" y1="235.8" x2="607" y2="235.8"/><line x1="592" y1="250.1" x2="607" y2="250.1"/><line x1="592" y1="264.3" x2="607" y2="264.3"/><line x1="592" y1="278.6" x2="607" y2="278.6"/><line x1="592" y1="292.8" x2="607" y2="292.8"/><line x1="592" y1="307.1" x2="607" y2="307.1"/><line x1="592" y1="321.3" x2="607" y2="321.3"/><line x1="592" y1="335.6" x2="607" y2="335.6"/><line x1="592" y1="349.8" x2="607" y2="349.8"/><line x1="592" y1="364.1" x2="607" y2="364.1"/><line x1="592" y1="378.3" x2="607" y2="378.3"/></g>
<rect x="803" y="150" width="221" height="214" fill="#3E3D31"/>
<g fill="#27251d" opacity="0.7"><circle cx="837.3" cy="180.4" r="0.9"/><circle cx="862.8" cy="171.5" r="1.2"/><circle cx="890.2" cy="190.3" r="0.9"/><circle cx="957.0" cy="173.1" r="0.7"/><circle cx="997.1" cy="175.5" r="0.8"/><circle cx="817.4" cy="211.8" r="1.1"/><circle cx="854.5" cy="210.1" r="1.3"/><circle cx="892.0" cy="202.2" r="1.2"/><circle cx="938.4" cy="222.3" r="1.1"/><circle cx="967.6" cy="201.0" r="1.3"/><circle cx="1016.7" cy="207.2" r="0.8"/><circle cx="807.6" cy="253.3" r="0.9"/><circle cx="837.9" cy="256.6" r="1.2"/><circle cx="870.8" cy="256.3" r="1.1"/><circle cx="954.5" cy="253.6" r="1.2"/><circle cx="968.9" cy="251.1" r="1.0"/><circle cx="1015.5" cy="244.5" r="1.2"/><circle cx="817.3" cy="271.7" r="0.8"/><circle cx="855.7" cy="267.1" r="1.0"/><circle cx="879.1" cy="278.4" r="1.0"/><circle cx="940.4" cy="287.4" r="1.0"/><circle cx="987.3" cy="282.9" r="1.2"/><circle cx="1014.9" cy="276.5" r="1.3"/><circle cx="816.6" cy="314.6" r="0.7"/><circle cx="848.3" cy="315.8" r="1.3"/><circle cx="873.5" cy="323.5" r="1.0"/><circle cx="978.5" cy="306.8" r="1.2"/><circle cx="1004.3" cy="310.4" r="1.0"/><circle cx="820.6" cy="341.8" r="1.0"/><circle cx="861.9" cy="352.0" r="0.9"/><circle cx="958.0" cy="355.8" r="1.1"/><circle cx="997.9" cy="339.1" r="0.9"/></g>
<path d="M803,138.1 L807.5,134.3 L814.5,139.7 L816.6,132.7 L823.1,138.6 L826.9,129 L832.2,138.1 L836,129 L840.3,138.1 L845.1,129 L848.3,137 L852.1,131.6 L855.9,137 L860.2,130 L864.4,138.1 L868.2,129.5 L872,138.1 L876.8,130.6 L881.6,138.1 L884.9,133.3 L888.1,137.6 L890.8,133.3 L894,137.6 L898,136.5 L898,153.1 L892.4,153.7 L887,153.1 L881.1,166.6 L874.1,152.6 L864.4,152.6 L858,158.5 L851.6,152.1 L845.1,152.6 L839.2,158.5 L832.2,153.7 L825.8,152.6 L820.4,155.3 L815,152.6 L808.6,153.7 L803,154.7 Z" fill="#89A356"/>
<path d="M930,137 L936.6,132.7 L940.9,137.6 L945.7,131.1 L950,137.6 L955.4,128.4 L959.1,135.9 L964.5,129.5 L968.8,135.9 L974.2,127.4 L978.4,135.4 L982.7,130 L987.6,136.5 L993,126.3 L997.2,136.5 L1001,130 L1005.8,137.6 L1010.7,132.2 L1015.5,138.1 L1020.3,132.2 L1024,136.5 L1024,153.1 L1017.1,154.7 L1012.8,152 L1005.3,167.6 L1000,158 L990,160 L975,161 L960,161 L950,157 L943,152.6 L935.5,153.1 L930,154.2 Z" fill="#89A356"/>
<g fill="none" stroke="#263016" stroke-width="2.2" stroke-linejoin="round"><path d="M803,138.1 L807.5,134.3 L814.5,139.7 L816.6,132.7 L823.1,138.6 L826.9,129 L832.2,138.1 L836,129 L840.3,138.1 L845.1,129 L848.3,137 L852.1,131.6 L855.9,137 L860.2,130 L864.4,138.1 L868.2,129.5 L872,138.1 L876.8,130.6 L881.6,138.1 L884.9,133.3 L888.1,137.6 L890.8,133.3 L894,137.6 L898,136.5"/><path d="M898,153.1 L892.4,153.7 L887,153.1 L881.1,166.6 L874.1,152.6 L864.4,152.6 L858,158.5 L851.6,152.1 L845.1,152.6 L839.2,158.5 L832.2,153.7 L825.8,152.6 L820.4,155.3 L815,152.6 L808.6,153.7 L803,154.7"/><path d="M930,137 L936.6,132.7 L940.9,137.6 L945.7,131.1 L950,137.6 L955.4,128.4 L959.1,135.9 L964.5,129.5 L968.8,135.9 L974.2,127.4 L978.4,135.4 L982.7,130 L987.6,136.5 L993,126.3 L997.2,136.5 L1001,130 L1005.8,137.6 L1010.7,132.2 L1015.5,138.1 L1020.3,132.2 L1024,136.5"/><path d="M1024,153.1 L1017.1,154.7 L1012.8,152 L1005.3,167.6 L1000,158 L990,160 L975,161 L960,161 L950,157 L943,152.6 L935.5,153.1 L930,154.2"/></g>
<text x="950" y="164" font-size="20.5" fill="#1a1a12" stroke="#1a1a12" stroke-width="0.1" textLength="53" lengthAdjust="spacingAndGlyphs">warsh</text>
<path d="M803.0,366.5 L803.0,383.2 L804.5,385.0 L804.5,386.0 L803.0,388.0 L803.0,389.0 L803.5,389.8 L803.5,390.8 L803.0,391.5 L803.0,415.0 L806.0,418.0 L805.8,419.8 L803.0,422.5 L803.0,433.2 L805.5,435.8 L809.5,437.8 L814.8,438.8 L819.2,438.5 L822.2,437.8 L826.0,435.8 L827.5,435.5 L828.5,435.8 L830.2,437.0 L831.5,437.2 L834.0,436.5 L835.5,436.8 L837.0,438.0 L842.0,440.0 L844.8,440.5 L849.2,440.5 L854.5,439.2 L857.5,437.8 L860.0,435.8 L861.0,435.5 L862.5,436.0 L865.8,438.0 L868.5,439.0 L872.0,439.8 L877.0,440.0 L882.2,439.2 L886.0,438.0 L890.2,435.5 L893.2,432.2 L894.5,432.0 L895.5,432.2 L896.2,433.0 L897.5,436.0 L900.0,438.5 L902.0,439.5 L903.8,440.0 L906.5,440.0 L910.0,441.5 L915.2,442.2 L920.5,441.2 L923.8,439.5 L925.2,438.0 L926.2,437.8 L931.2,439.2 L935.2,439.5 L938.2,439.0 L943.0,437.0 L946.8,438.8 L951.0,440.0 L959.0,440.0 L963.2,438.8 L966.5,437.0 L969.8,434.0 L972.8,433.2 L974.0,433.5 L976.5,436.2 L979.2,438.0 L983.2,439.2 L987.2,439.5 L992.5,438.2 L995.5,436.5 L997.5,434.5 L998.5,434.2 L1001.2,435.5 L1006.0,436.8 L1011.8,436.8 L1014.2,436.2 L1018.5,434.5 L1020.2,433.2 L1022.8,430.5 L1023.8,430.2 L1023.8,363.8 L1023.0,363.5 L1010.2,363.5 L1007.8,364.8 L1006.2,364.5 L1004.5,363.5 L979.2,363.5 L976.8,365.2 L975.8,365.5 L974.8,365.2 L972.5,363.5 L949.0,363.5 L947.0,365.0 L946.0,365.2 L944.2,364.8 L942.8,363.5 L932.8,363.5 L929.5,366.5 L928.2,368.8 L927.5,371.2 L927.5,376.0 L928.2,378.5 L929.2,380.2 L929.2,381.5 L927.0,384.2 L925.0,388.5 L924.5,391.0 L924.8,396.5 L923.8,397.8 L919.5,400.2 L915.2,405.0 L914.2,405.2 L913.2,405.0 L912.5,404.2 L912.0,401.5 L910.2,397.2 L906.8,393.2 L901.8,390.2 L897.8,389.0 L895.5,388.8 L894.0,387.8 L894.0,385.8 L896.8,383.2 L898.2,380.8 L899.2,377.2 L899.2,373.8 L898.2,370.2 L896.8,367.8 L894.8,365.8 L892.8,364.5 L890.2,363.8 L886.5,363.8 L881.2,366.0 L880.2,365.8 L877.5,363.5 L851.8,363.5 L850.2,364.8 L849.2,365.0 L847.8,364.5 L846.5,363.5 L828.2,363.5 L827.0,364.5 L825.5,365.0 L824.5,364.8 L823.0,363.5 L806.2,363.5Z" fill="#A9A7A7" stroke="#3a3430" stroke-width="2"/>
<path d="M806.5,365.8 L804.0,368.8 L804.0,381.0 L805.0,382.5 L806.5,384.0 L808.2,384.8 L822.5,384.2 L825.5,380.8 L825.0,370.5 L824.5,367.5 L822.2,365.2 L821.2,365.0 L808.2,365.0Z M826.0,368.2 L826.2,374.8 L827.0,380.0 L828.2,381.5 L831.2,383.2 L833.8,384.0 L836.5,383.8 L843.5,380.5 L847.8,377.8 L848.8,376.5 L848.8,368.2 L845.8,365.2 L830.0,365.0 L828.2,365.8Z M850.0,368.2 L850.2,376.8 L852.5,378.2 L865.5,383.8 L868.0,384.5 L869.5,384.2 L873.0,382.5 L877.5,381.0 L879.0,379.5 L879.8,368.8 L879.0,367.5 L876.5,365.2 L854.0,365.0 L852.5,365.5Z M886.8,365.5 L884.0,366.5 L881.8,368.5 L881.2,369.5 L880.5,374.2 L880.2,380.0 L881.5,381.5 L885.2,384.0 L887.8,385.2 L890.2,385.5 L893.2,384.2 L895.8,381.8 L896.5,380.5 L897.8,376.0 L897.5,373.2 L896.2,370.0 L895.0,368.2 L893.2,366.8 L890.2,365.5Z M805.2,388.0 L805.2,389.0 L806.2,390.2 L811.5,391.0 L815.5,391.0 L823.0,389.8 L824.0,388.5 L824.0,387.2 L823.0,386.0 L822.0,385.8 L812.0,385.8 L807.2,386.2 L806.2,386.8Z M835.0,386.5 L834.5,388.2 L834.5,391.5 L836.5,395.0 L837.5,396.0 L841.2,396.5 L844.0,397.8 L848.2,402.0 L849.2,402.2 L855.2,401.2 L861.8,400.8 L863.5,400.2 L865.2,398.5 L866.0,392.0 L867.0,388.2 L866.8,385.8 L866.0,385.0 L860.5,383.0 L850.8,378.5 L848.5,378.5 L844.5,381.2 L836.2,385.0Z M879.2,381.8 L875.5,382.8 L869.8,385.2 L868.5,387.0 L867.8,390.0 L866.5,399.0 L867.8,400.8 L869.8,402.5 L872.0,403.8 L874.5,404.5 L876.5,404.0 L882.0,399.8 L886.5,395.0 L889.5,390.8 L889.5,388.8 L887.5,386.2 L884.2,384.8 L880.8,382.2Z M833.8,392.8 L830.5,390.0 L827.5,388.8 L823.8,390.8 L820.0,391.8 L815.5,392.2 L811.5,392.2 L808.2,391.8 L806.2,392.0 L804.0,394.5 L804.0,412.0 L804.5,413.0 L808.0,416.0 L810.8,417.5 L813.2,418.0 L817.8,418.0 L818.8,417.8 L822.0,414.0 L824.8,412.0 L828.8,410.0 L833.5,408.8 L834.8,407.2 L834.5,402.5 L834.8,400.8 L836.0,397.8 L836.0,396.5Z M837.8,397.8 L836.8,399.0 L836.0,401.2 L835.8,404.5 L836.8,408.2 L838.2,409.5 L840.8,410.5 L842.2,410.0 L844.8,407.5 L846.8,404.0 L846.8,402.5 L846.0,401.2 L843.0,398.5 L840.2,397.5Z M874.5,410.8 L873.2,407.8 L870.0,404.5 L866.8,402.8 L863.5,401.8 L848.8,403.5 L846.0,408.0 L842.8,411.2 L842.5,412.8 L844.0,417.0 L845.2,418.5 L851.5,420.0 L859.2,422.5 L872.8,415.8 L874.2,414.0Z M904.0,394.0 L901.0,392.2 L896.8,391.0 L891.2,391.0 L886.2,397.2 L883.0,400.5 L876.8,405.5 L876.5,407.8 L877.8,410.5 L879.2,412.5 L881.8,414.8 L884.8,416.5 L887.2,417.2 L888.8,417.0 L891.8,415.2 L897.2,413.2 L900.8,412.5 L906.8,412.0 L909.0,408.5 L909.8,405.5 L909.8,403.2 L909.0,400.2 L908.0,398.2 L906.5,396.2Z M842.8,417.0 L841.0,412.5 L840.0,411.5 L836.8,409.8 L835.2,409.5 L828.8,411.2 L825.8,412.8 L821.8,416.0 L820.8,417.5 L820.8,418.8 L822.2,420.5 L828.2,424.8 L833.2,425.0 L836.0,423.8 L841.5,420.0 L842.8,418.5Z M804.0,424.5 L804.0,431.2 L806.5,434.2 L809.5,436.0 L813.5,437.0 L819.8,436.8 L823.8,435.2 L825.2,434.2 L826.8,432.5 L826.8,430.2 L827.5,427.8 L827.2,425.8 L825.8,424.2 L819.2,419.8 L817.5,419.2 L811.0,419.2 L806.5,421.5Z M831.0,426.0 L830.0,426.2 L828.8,427.8 L828.0,430.8 L828.0,433.0 L829.8,435.5 L831.8,436.0 L832.8,435.8 L834.5,433.5 L834.5,429.2 L834.0,427.5 L833.0,426.2Z M835.2,426.0 L835.2,427.5 L835.8,428.8 L836.0,434.8 L839.2,437.2 L842.0,438.2 L844.5,438.8 L849.8,438.8 L853.0,438.0 L855.8,436.8 L857.8,435.2 L860.0,432.2 L859.5,427.0 L858.8,424.2 L857.0,423.0 L851.5,421.2 L845.5,419.8 L843.5,420.0 L836.2,424.8Z M860.5,424.0 L861.0,430.2 L861.8,432.8 L865.5,435.8 L871.2,437.8 L879.0,438.0 L884.8,436.5 L888.8,434.0 L890.8,431.8 L892.0,429.2 L892.0,428.2 L890.0,425.2 L887.5,419.8 L885.5,418.0 L879.8,416.2 L874.0,416.2 L861.5,422.8Z M909.8,415.8 L908.2,414.2 L906.5,413.5 L902.8,413.5 L898.2,414.2 L893.5,415.8 L890.0,417.5 L889.0,418.8 L889.0,420.2 L892.5,426.8 L894.0,428.2 L896.5,428.8 L897.5,428.5 L899.0,427.2 L902.8,425.2 L909.8,423.2 L911.5,421.2 L911.2,418.8Z M907.8,425.5 L906.8,425.2 L902.8,426.5 L899.2,428.5 L897.5,430.5 L897.8,433.0 L898.8,435.0 L900.8,437.2 L902.0,438.0 L905.2,438.5 L906.2,438.2 L907.5,436.8 L908.8,431.2 L908.8,426.8Z M932.8,365.5 L930.5,368.0 L929.0,372.0 L929.0,375.2 L929.8,377.8 L931.0,380.0 L932.5,381.2 L936.8,381.5 L941.0,380.5 L944.2,378.8 L945.5,377.2 L945.8,375.2 L945.5,369.0 L944.5,367.2 L942.5,365.2 L941.5,365.0 L934.2,365.0Z M946.8,368.8 L947.0,377.5 L949.5,379.5 L954.8,382.5 L961.0,385.2 L964.5,385.0 L966.0,384.5 L972.2,379.5 L975.8,375.8 L975.0,369.2 L974.0,367.5 L972.2,365.8 L970.5,365.0 L951.0,365.0 L949.0,366.0Z M976.2,370.8 L977.0,374.2 L978.5,375.8 L989.0,377.5 L1001.2,378.0 L1002.2,377.8 L1003.8,376.0 L1006.2,370.2 L1006.5,367.5 L1005.2,366.0 L1003.0,365.0 L980.8,365.0 L979.0,365.8 L976.8,368.0 L976.2,369.0Z M1010.8,365.5 L1008.2,367.5 L1006.8,373.0 L1004.0,378.0 L1004.0,379.2 L1008.8,388.0 L1009.8,389.0 L1018.8,390.0 L1021.2,390.0 L1023.8,389.0 L1023.8,366.2 L1021.0,365.0 L1012.5,365.0Z M931.5,382.8 L929.0,385.8 L927.2,390.0 L927.0,393.2 L928.0,397.0 L929.0,398.0 L938.0,402.0 L946.2,406.2 L947.2,406.5 L950.0,405.8 L956.8,398.5 L961.5,391.2 L961.0,388.2 L959.5,386.0 L953.8,383.2 L947.5,379.5 L945.0,379.5 L941.0,381.8 L938.5,382.5Z M966.5,386.0 L966.8,389.0 L969.0,390.5 L980.0,394.5 L994.0,398.0 L995.5,398.0 L999.2,397.0 L1002.0,395.8 L1007.5,390.0 L1007.5,388.2 L1003.2,380.5 L1002.2,379.5 L986.8,378.5 L978.0,376.8 L976.8,377.0 L971.5,381.8 L967.5,384.8Z M950.5,407.2 L951.0,411.2 L952.0,413.8 L952.8,414.5 L957.0,415.8 L961.8,418.0 L967.0,421.8 L968.8,422.0 L970.0,421.5 L971.8,421.5 L973.2,422.2 L974.5,423.5 L975.5,423.8 L976.8,423.5 L980.8,421.2 L983.5,420.2 L987.0,419.5 L992.0,419.2 L994.2,417.0 L996.8,412.5 L996.8,411.0 L994.0,407.5 L993.5,406.0 L993.5,400.0 L992.5,398.8 L987.2,397.8 L980.0,395.8 L974.0,393.8 L966.2,390.5 L963.2,391.2 L962.5,392.0 L958.0,399.0Z M1009.2,390.8 L1008.2,391.2 L1003.5,396.0 L1002.2,398.2 L1002.2,399.5 L1003.2,402.5 L1003.2,405.0 L1002.8,407.2 L1001.5,409.5 L1001.8,412.2 L1003.0,415.0 L1005.5,418.0 L1012.5,419.2 L1019.2,421.2 L1020.5,421.0 L1023.8,419.0 L1023.8,392.8 L1020.8,391.2 L1012.0,390.5Z M923.5,400.2 L920.8,402.2 L918.5,404.8 L917.0,407.2 L916.0,410.0 L915.8,415.8 L916.5,418.5 L917.8,421.0 L923.5,425.0 L926.2,427.5 L927.2,427.8 L932.2,426.5 L938.8,426.2 L947.5,415.0 L947.5,411.8 L946.2,407.8 L945.5,407.0 L938.0,403.2 L927.5,398.8Z M940.8,426.2 L940.8,427.5 L943.5,431.8 L944.2,434.8 L946.0,436.2 L950.8,438.0 L958.0,438.2 L960.2,437.8 L964.8,435.8 L968.0,432.5 L967.2,429.5 L967.0,423.2 L965.0,421.5 L960.8,418.8 L957.0,417.0 L952.2,415.5 L948.5,416.2 L944.2,421.0Z M994.0,421.8 L991.8,420.8 L987.0,420.8 L983.5,421.5 L979.2,423.2 L977.0,424.8 L975.5,426.5 L975.0,431.0 L975.5,432.2 L978.0,435.2 L981.8,437.2 L984.0,437.8 L988.2,437.8 L992.5,436.5 L996.2,433.2 L997.0,431.8 L996.2,427.0 L996.2,424.2Z M997.5,423.8 L997.8,428.5 L998.5,431.5 L1000.8,433.5 L1004.8,435.0 L1011.5,435.2 L1014.8,434.5 L1018.8,432.2 L1019.8,431.2 L1021.2,428.5 L1021.2,425.8 L1020.5,424.0 L1019.2,422.5 L1010.2,420.0 L1006.0,419.2 L1003.5,419.5 L999.5,421.5Z M926.2,431.0 L926.0,434.2 L926.5,435.5 L927.8,436.8 L931.2,438.0 L935.5,438.2 L938.2,437.8 L941.2,436.2 L942.5,434.8 L942.5,433.0 L941.2,430.2 L939.2,428.0 L938.2,427.8 L932.2,427.8 L928.5,428.5 L926.8,429.8Z M912.0,422.8 L910.0,425.0 L910.0,431.8 L908.8,436.8 L909.0,438.8 L910.0,439.8 L912.8,440.5 L917.0,440.5 L921.5,439.0 L924.8,435.8 L924.8,432.0 L925.2,430.2 L925.0,428.0 L922.5,425.8 L918.0,422.8Z M997.8,398.5 L996.8,398.8 L995.5,400.0 L994.8,401.8 L994.5,404.2 L995.0,406.2 L996.2,408.5 L997.0,409.2 L998.8,409.8 L999.8,409.5 L1000.5,408.8 L1001.5,406.8 L1002.0,403.0 L1001.0,399.8 L1000.0,398.8Z M970.8,422.8 L969.8,423.0 L968.5,424.8 L968.5,429.0 L969.2,431.2 L970.0,432.0 L971.2,432.2 L972.2,432.0 L973.8,430.0 L974.0,425.5 L972.2,423.0Z" fill="#8D8C8E" stroke="#37322e" stroke-width="1.9" stroke-linejoin="round"/>
<path d="M803,364 C850,365.5 950,362.5 1024,364" fill="none" stroke="#2e2a22" stroke-width="2.2"/>
<rect x="897.5" y="124.5" width="33" height="253" fill="#454444" stroke="#1e1e1e" stroke-width="2.2"/>
<rect x="903" y="125.5" width="21" height="251" fill="#C9C7C9"/>
<g stroke="#2a2a2a" stroke-width="2"><line x1="903" y1="132.2" x2="924.5" y2="132.2"/><line x1="903" y1="143.3" x2="924.5" y2="143.3"/><line x1="903" y1="154.5" x2="924.5" y2="154.5"/><line x1="903" y1="165.6" x2="924.5" y2="165.6"/><line x1="903" y1="176.8" x2="924.5" y2="176.8"/><line x1="903" y1="187.9" x2="924.5" y2="187.9"/><line x1="903" y1="199.0" x2="924.5" y2="199.0"/><line x1="903" y1="210.2" x2="924.5" y2="210.2"/><line x1="903" y1="221.3" x2="924.5" y2="221.3"/><line x1="903" y1="232.5" x2="924.5" y2="232.5"/><line x1="903" y1="243.6" x2="924.5" y2="243.6"/><line x1="903" y1="254.7" x2="924.5" y2="254.7"/><line x1="903" y1="265.9" x2="924.5" y2="265.9"/><line x1="903" y1="277.0" x2="924.5" y2="277.0"/><line x1="903" y1="288.2" x2="924.5" y2="288.2"/><line x1="903" y1="299.3" x2="924.5" y2="299.3"/><line x1="903" y1="310.4" x2="924.5" y2="310.4"/><line x1="903" y1="321.6" x2="924.5" y2="321.6"/><line x1="903" y1="332.7" x2="924.5" y2="332.7"/><line x1="903" y1="343.9" x2="924.5" y2="343.9"/><line x1="903" y1="355.0" x2="924.5" y2="355.0"/><line x1="903" y1="366.1" x2="924.5" y2="366.1"/><line x1="903" y1="124" x2="903" y2="377"/><line x1="924.5" y1="124" x2="924.5" y2="377"/></g>
<path d="M897.5,377 L930.5,377 L929.5,387.5 L898.5,387.5 Z" fill="#CD8C5A" stroke="#3a2214" stroke-width="2.2" stroke-linejoin="round"/>
<path d="M898.5,387.5 L929.5,387.5 L914,421 Z" fill="#CD8C5A" stroke="#3a2214" stroke-width="2.2" stroke-linejoin="round"/>
<g stroke="#3f3d3c" stroke-width="3.1" stroke-linecap="round">
<line x1="901.1" y1="85.5" x2="901.1" y2="123.5"/>
<line x1="909.7" y1="85.5" x2="909.7" y2="123.5"/>
<line x1="917.8" y1="85.5" x2="917.8" y2="123.5"/>
<line x1="926.1" y1="85.5" x2="926.1" y2="123.5"/>
</g>
<line x1="100.5" y1="52.5" x2="100.5" y2="82" stroke="#111" stroke-width="1.8"/><path d="M95.5,79.5 L105.5,79.5 L100.5,88 Z" fill="#111"/>
<line x1="304.7" y1="52.5" x2="304.7" y2="100.5" stroke="#111" stroke-width="1.8"/><path d="M299.7,98.0 L309.7,98.0 L304.7,106.5 Z" fill="#111"/>
<line x1="502.9" y1="52.7" x2="502.9" y2="91.8" stroke="#111" stroke-width="1.8"/><path d="M497.9,89.3 L507.9,89.3 L502.9,97.8 Z" fill="#111"/>
<line x1="704.2" y1="52.7" x2="704.2" y2="106" stroke="#111" stroke-width="1.8"/><path d="M699.2,103.5 L709.2,103.5 L704.2,112 Z" fill="#111"/>
<line x1="914" y1="51.5" x2="914" y2="71" stroke="#111" stroke-width="1.8"/><path d="M909,68.5 L919,68.5 L914,77 Z" fill="#111"/>
<line x1="100.5" y1="442" x2="100.5" y2="459" stroke="#111" stroke-width="1.8"/><path d="M95.5,456.5 L105.5,456.5 L100.5,465 Z" fill="#111"/>
<line x1="304.7" y1="420" x2="304.7" y2="464" stroke="#111" stroke-width="1.8"/><path d="M299.7,422.5 L309.7,422.5 L304.7,414 Z" fill="#111"/>
<line x1="502.9" y1="406" x2="502.9" y2="464" stroke="#111" stroke-width="1.8"/><path d="M497.9,408.5 L507.9,408.5 L502.9,400 Z" fill="#111"/>
<line x1="705" y1="416" x2="705" y2="464" stroke="#111" stroke-width="1.8"/><path d="M700,418.5 L710,418.5 L705,410 Z" fill="#111"/>
<line x1="914" y1="422" x2="914" y2="458" stroke="#111" stroke-width="1.8"/><path d="M909,455.5 L919,455.5 L914,464 Z" fill="#111"/>
<text x="100" y="43.5" font-size="21.3" fill="#1a1411" stroke="#1a1411" stroke-width="0.15" transform="matrix(0.9982,0,0,1,-78.22,0)">Alluvial/Loam Soil</text>
<text x="100" y="43.5" font-size="21.3" fill="#1a1411" stroke="#1a1411" stroke-width="0.15" transform="matrix(1.0037,0,0,1,121.62,0)">Black/Clayey Soil</text>
<text x="100" y="43.5" font-size="21.3" fill="#1a1411" stroke="#1a1411" stroke-width="0.15" transform="matrix(1.003,0,0,1,317.9,0)">Sandy/Desert Soil</text>
<text x="100" y="43.5" font-size="21.3" fill="#1a1411" stroke="#1a1411" stroke-width="0.15" transform="matrix(1.0049,0,0,1,530.2,0)">Rocky/Hilly Soil</text>
<text x="100" y="43.5" font-size="21.3" fill="#1a1411" stroke="#1a1411" stroke-width="0.15" transform="matrix(1.0012,0,0,1,725.88,0)">Peaty/Marshy Soil</text>
<text x="100" y="487" font-size="21.3" fill="#1a1411" stroke="#1a1411" stroke-width="0.15" transform="matrix(1.0008,0,0,1,-65.18,0)">Ganga Plains</text>
<text x="100" y="487" font-size="21.3" fill="#1a1411" stroke="#1a1411" stroke-width="0.15" transform="matrix(1.0054,0,0,1,127.74,0)">Deccan Plateau</text>
<text x="100" y="487" font-size="21.3" fill="#1a1411" stroke="#1a1411" stroke-width="0.15" transform="matrix(1.0009,0,0,1,343.91,0)">Thar Desert</text>
<text x="100" y="487" font-size="21.3" fill="#1a1411" stroke="#1a1411" stroke-width="0.15" transform="matrix(0.9993,0,0,1,536.27,0)">Western Ghats</text>
<text x="100" y="487" font-size="21.3" fill="#1a1411" stroke="#1a1411" stroke-width="0.15" transform="matrix(0.9984,0,0,1,753.46,0)">Assam Plains</text>
<rect x="234" y="529.8" width="554.3" height="37.1" rx="18.55" fill="#050404"/>
<text x="100" y="556.4" font-size="21.5" fill="#F4F2F0" stroke="#F4F2F0" stroke-width="0.3" transform="matrix(0.9907,0,0,1,156.05,0)">Match foundation to soil for stable residential buildings</text>
<rect x="796" y="523.3" width="228" height="52.7" fill="#FDFDFD"/>
<path d="M808.4,558.5 L808.4,545.5 L810.6,543.2 L819.4,543.2 L819.4,558.5 M813.9,543.2 L813.9,558.5 M823,558.5 L823,543.2 L831,543.2 Q833,543.2 833,545.5 L833,548.5 Q833,551 831,551 L823,551 M828,551 L833.5,558.5 M853.6,543.2 L845.3,543.2 L845.3,557.5 L853.6,557.5 M856.5,543.2 L856.5,558.5 M858.8,543.2 L863.3,558 L867.9,543.2 M871.2,543.2 L871.2,558.5 M874.8,543.2 L874.8,557.5 L884.7,557.5 M931.2,543.2 L921.6,543.2 L921.6,557.5 L931.2,557.5 M921.6,550.3 L930,550.3 M934.8,558.5 L934.8,543.2 L942.4,558.5 L942.4,543.2 M956,543.2 L947.5,543.2 L947.5,557.5 L955.6,557.5 L955.6,550.5 L951.5,550.5 M959.9,543.2 L959.9,558.5 M962.7,558.5 L962.7,543.2 L971.4,558.5 L971.4,543.2 M985,543.2 L976.9,543.2 L976.9,557.5 L985,557.5 M976.9,550.3 L984,550.3 M999.3,543.2 L989.6,543.2 L989.6,557.5 L999.3,557.5 M989.6,550.3 L998.3,550.3 M1003.3,558.5 L1003.3,543.2 L1011,543.2 Q1013,543.2 1013,545.5 L1013,548.5 Q1013,551 1011,551 L1003.3,551 M1008,551 L1013,558.5" fill="none" stroke="#3D78B2" stroke-width="1.9" stroke-linejoin="round"/>
<circle cx="836.2" cy="557.6" r="1.2" fill="#3C76B4"/>
<g stroke="#5a5a5a" stroke-width="0.8" fill="#e8e8ea"><path d="M886,556 L886,535 L889,531 L893,531 L893,556 Z"/><line x1="888.2" y1="533" x2="888.2" y2="556"/><line x1="890.6" y1="532" x2="890.6" y2="556"/></g>
<g stroke="#333" stroke-width="1" fill="none"><path d="M911,527 L905,556 M911,527 L917.5,553 M908,540 L914,540"/></g>
<path d="M883.8,559.5 C884,552 889,548 896,547 L907.5,547 C914,548 918,552 918,559.5 Z" fill="#EEEAE1" stroke="#444" stroke-width="1"/>
<path d="M897.5,547 L901.8,552.5 L906,547 M901.8,552.5 L901.8,559" fill="none" stroke="#666" stroke-width="0.7"/>
<rect x="899.3" y="543" width="5" height="4.5" fill="#E6DFD2"/>
<ellipse cx="901.8" cy="538.3" rx="6.3" ry="7.6" fill="#ECE5D8" stroke="#3a3a3a" stroke-width="0.8"/>
<path d="M895,539.5 C893.8,531 896.5,526.3 901.8,526.3 C907.2,526.3 910,531 908.7,539.5 L907.6,535 C906,532.2 904,531.8 901.8,531.8 C899.3,531.8 897.4,532.4 896.1,535 Z" fill="#1F2731"/>
<g fill="none" stroke="#2a2a2a" stroke-width="0.9"><ellipse cx="899.1" cy="538.4" rx="2.5" ry="1.8"/><ellipse cx="904.5" cy="538.4" rx="2.5" ry="1.8"/><path d="M901.6,538.2 L902,538.2"/><path d="M900.3,543 Q901.8,544 903.3,543" stroke-width="0.6"/></g>
<text x="822" y="571" font-size="11" fill="#3d3d3d" textLength="173" lengthAdjust="spacingAndGlyphs">The Professional Engineer</text>
</svg></body></html>
